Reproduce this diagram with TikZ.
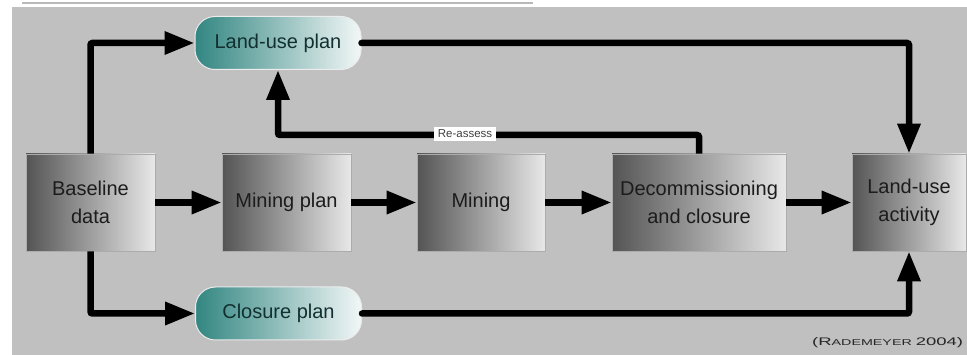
\documentclass[tikz,border=0pt]{standalone}
\usepackage{fontspec}
\setmainfont{Liberation Sans}
\usetikzlibrary{arrows.meta}
\definecolor{bggray}{RGB}{192,192,192}
\definecolor{boxdark}{RGB}{84,84,84}
\definecolor{boxlight}{RGB}{232,232,232}
\definecolor{tealdark}{RGB}{50,134,129}
\definecolor{teallight}{RGB}{242,247,247}
\definecolor{txt}{RGB}{28,28,28}
\definecolor{pilltxt}{RGB}{18,48,48}
\begin{document}
\begin{tikzpicture}[x=1pt,y=-1pt,
 stagebox/.style={draw=gray!65, line width=0.8pt, left color=boxdark, right color=boxlight,
   minimum height=97pt, inner sep=0pt, align=center, text=txt,
   font=\fontsize{20}{28}\selectfont},
 planpill/.style={draw=white!85!gray, line width=1pt, rounded corners=20pt,
   left color=tealdark, right color=teallight, minimum width=166pt, minimum height=53pt,
   inner sep=0pt, text=pilltxt, font=\fontsize{20}{24}\selectfont},
 flow/.style={line width=6.5pt, -{Triangle[length=30pt,width=22pt]}, rounded corners=2pt},
 lbl/.style={fill=white, inner xsep=4pt, inner ysep=3pt, font=\fontsize{11.5}{13}\selectfont, text=black!75}
]
\clip (0,0) rectangle (967,355);
\fill[white] (0,0) rectangle (967,355);
\fill[bggray] (12,7) rectangle (967,355);
\draw[gray!55, line width=1.5pt] (22,3) -- (533,3);

% stages
\node[stagebox, minimum width=129pt] (base) at (90.5,202.5) {Baseline\\data};
\node[stagebox, minimum width=129pt] (mplan) at (286.5,202.5) {Mining plan};
\node[stagebox, minimum width=128pt] (mine) at (481,202.5) {Mining};
\node[stagebox, minimum width=174pt] (dec) at (699,202.5) {Decommissioning\\and closure};
\node[stagebox, minimum width=114pt] (lua) at (909,202.5) {Land-use\\activity};

% plans
\node[planpill] (lup) at (278,43) {Land-use plan};
\node[planpill] (cp) at (278.5,313.5) {Closure plan};

% connectors
\draw[flow] (base.north) |- (lup.west);
\draw[flow] (base.south) |- (cp.west);
\draw[flow] (base) -- (mplan);
\draw[flow] (mplan) -- (mine);
\draw[flow] (mine) -- (dec);
\draw[flow] (dec) -- (lua);
\draw[flow, line cap=round] (lup.east) -| (lua.north);
\draw[flow, line cap=round] (cp.east) -| (lua.south);
\coordinate (racorner) at (699,135);
\draw[flow] (dec.north) -- (racorner) -| (lup.south);
\node[lbl] (ralbl) at (465,134) {Re-assess};

% citation
\node[anchor=west, inner sep=0pt, text=black!85] (cite) at (812,343)
  {\scalebox{1.68}[1]{\fontsize{11}{11}\selectfont (R\fontsize{8.5}{8.5}\selectfont ADEMEYER \fontsize{11}{11}\selectfont 2004)}};
\end{tikzpicture}
\end{document}
